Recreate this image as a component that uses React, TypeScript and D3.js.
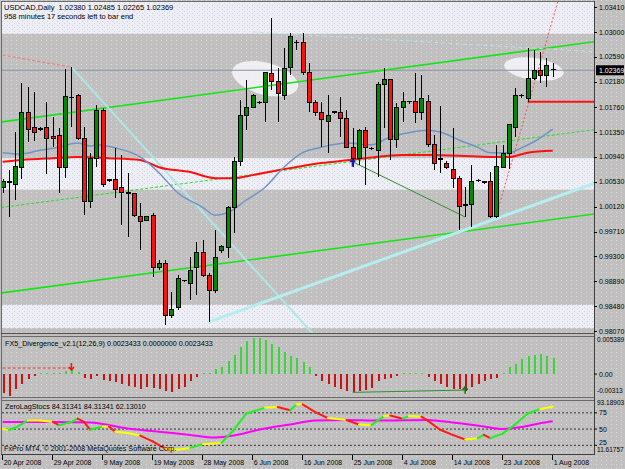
import React from 'react';
import * as d3 from 'd3';

// time axis labels, one every 8 bars
const dateLabels = ['20 Apr 2008', '29 Apr 2008', '9 May 2008', '19 May 2008', '28 May 2008', '6 Jun 2008',
  '16 Jun 2008', '25 Jun 2008', '4 Jul 2008', '14 Jul 2008', '23 Jul 2008', '1 Aug 2008'];

// USDCAD daily candles
const opens = [
  1.0044, 1.0053, 1.0049, 1.0077, 1.0167, 1.0142, 1.0140, 1.0142, 1.0127, 1.0129,
  1.0077, 1.0191, 1.0195, 1.0125, 1.0020, 1.0092, 1.0171, 1.0056, 1.0056, 1.0043,
  1.0036, 1.0033, 0.9995, 0.9990, 0.9998, 0.9912, 0.9919, 0.9832, 0.9845, 0.9889,
  0.9886, 0.9911, 0.9936, 0.9898, 0.9873, 0.9939, 0.9945, 1.0011, 1.0087, 1.0163,
  1.0176, 1.0183, 1.0183, 1.0231, 1.0219, 1.0196, 1.0241, 1.0282, 1.0282, 1.0234,
  1.0183, 1.0168, 1.0153, 1.0168, 1.0167, 1.0158, 1.0110, 1.0092, 1.0138, 1.0107,
  1.0104, 1.0214, 1.0221, 1.0122, 1.0176, 1.0185, 1.0185, 1.0167, 1.0186, 1.0114,
  1.0091, 1.0084, 1.0074, 1.0059, 1.0015, 1.0016, 1.0054, 1.0053, 1.0054, 0.9995,
  1.0077, 1.0099, 1.0143, 1.0195, 1.0191, 1.0224, 1.0236, 1.0229, 1.0238];
const highs = [
  1.0058, 1.0072, 1.0135, 1.0216, 1.0209, 1.0201, 1.0143, 1.0185, 1.0160, 1.0142,
  1.0239, 1.0242, 1.0198, 1.0143, 1.0101, 1.0180, 1.0175, 1.0058, 1.0109, 1.0097,
  1.0068, 1.0035, 1.0018, 0.9997, 1.0002, 0.9924, 0.9924, 0.9871, 0.9899, 0.9891,
  0.9929, 0.9954, 0.9957, 0.9903, 0.9973, 0.9949, 1.0013, 1.0094, 1.0188, 1.0221,
  1.0198, 1.0186, 1.0234, 1.0323, 1.0241, 1.0274, 1.0299, 1.0287, 1.0299, 1.0249,
  1.0188, 1.0185, 1.0196, 1.0170, 1.0193, 1.0171, 1.0142, 1.0140, 1.0143, 1.0110,
  1.0218, 1.0241, 1.0223, 1.0183, 1.0201, 1.0187, 1.0233, 1.0229, 1.0196, 1.0130,
  1.0178, 1.0087, 1.0142, 1.0063, 1.0044, 1.0081, 1.0058, 1.0055, 1.0069, 1.0114,
  1.0114, 1.0148, 1.0208, 1.0197, 1.0274, 1.0271, 1.0267, 1.0257, 1.02485];
const lows = [
  1.0035, 0.9995, 1.0023, 1.0058, 1.0119, 1.0120, 1.0136, 1.0066, 1.0110, 1.0035,
  1.0059, 1.0143, 1.0122, 0.9998, 1.0010, 1.0077, 1.0044, 1.0053, 1.0026, 0.9982,
  0.9962, 0.9995, 0.9940, 0.9988, 0.9896, 0.9907, 0.9817, 0.9828, 0.9841, 0.9887,
  0.9858, 0.9866, 0.9896, 0.9822, 0.9870, 0.9936, 0.9927, 0.9969, 1.0079, 1.0138,
  1.0175, 1.0181, 1.0152, 1.0204, 1.0152, 1.0188, 1.0229, 1.0270, 1.0229, 1.0168,
  1.0162, 1.0110, 1.0101, 1.0165, 1.0127, 1.0109, 1.0077, 1.0081, 1.0048, 1.0105,
  1.0061, 1.0142, 1.0089, 1.0109, 1.0152, 1.0182, 1.0150, 1.0155, 1.0110, 1.0072,
  1.0068, 1.0074, 1.0043, 0.9973, 0.9995, 0.9978, 1.0052, 1.0050, 0.9993, 0.9993,
  1.0076, 1.0074, 1.0127, 1.0191, 1.0185, 1.0221, 1.0216, 1.0209, 1.02265];
const closes = [
  1.0053, 1.0052, 1.0079, 1.0167, 1.0140, 1.0135, 1.0139, 1.0124, 1.0124, 1.0077,
  1.0193, 1.0192, 1.0124, 1.0020, 1.0092, 1.0171, 1.0048, 1.0055, 1.0041, 1.0036,
  1.0033, 0.9997, 0.9988, 0.9995, 0.9912, 0.9919, 0.9833, 0.9843, 0.9894, 0.9890,
  0.9907, 0.9937, 0.9899, 0.9873, 0.9929, 0.9947, 1.0011, 1.0087, 1.0162, 1.0176,
  1.0195, 1.0184, 1.0233, 1.0219, 1.0198, 1.0239, 1.0292, 1.0283, 1.0234, 1.0183,
  1.0167, 1.0155, 1.0162, 1.0167, 1.0158, 1.0110, 1.0092, 1.0138, 1.0109, 1.0108,
  1.0214, 1.0221, 1.0122, 1.0176, 1.0185, 1.0184, 1.0167, 1.0190, 1.0114, 1.0084,
  1.0090, 1.0077, 1.0059, 1.0013, 1.0014, 1.0054, 1.0055, 1.0052, 0.9995, 1.0079,
  1.0099, 1.0147, 1.0195, 1.0194, 1.0224, 1.0236, 1.0229, 1.0244, 1.02369];

const lastPrice = 1.02369;
const priceTicks = [1.0341, 1.03, 1.0259, 1.0218, 1.0176, 1.0135, 1.0094, 1.0053, 1.0012, 0.9971, 0.993, 0.9889, 0.9848, 0.9807];

// moving averages, read at some bars
const blueMaIdx = [0, 3, 6, 9, 12, 14, 15, 18, 22, 25, 28, 32, 34, 36, 39, 42, 45, 48, 51, 55, 59, 62, 65, 68, 70, 73, 76, 78, 81, 83, 85, 88];
const blueMa = [1.0101, 1.0099, 1.0105, 1.0110, 1.0117, 1.0112, 1.0114, 1.0109, 1.0094, 1.0068, 1.0035, 1.0011, 0.9998, 1.0002, 1.0023, 1.0044,
  1.0077, 1.0101, 1.0110, 1.0117, 1.0114, 1.0127, 1.0134, 1.0138, 1.0135, 1.0122, 1.0110, 1.0101, 1.0101, 1.0109, 1.0119, 1.0140];
const redMaIdx = [0, 3, 8, 12, 17, 22, 25, 30, 34, 37, 40, 44, 48, 51, 53, 58, 64, 68, 73, 78, 81, 84, 88];
const redMa = [1.0086, 1.0089, 1.0092, 1.0094, 1.0092, 1.0089, 1.0077, 1.0069, 1.0059, 1.0059, 1.0064, 1.0072, 1.0079, 1.0084, 1.0086,
  1.0092, 1.0097, 1.0097, 1.0096, 1.0094, 1.0094, 1.0101, 1.0104];

// shaded price zones [top, bottom]
const zoneTops = [1.0360, 1.0092, 0.9850];
const zoneBottoms = [1.0297, 1.0040, 0.9812];

// FX5_Divergence histogram, in units of 0.0001
const divHist = [
  -29, -32.5, -22.5, -15, -7.5, -2.5, 1, 1, 1, 1.5, 5, 6, 3.5,
  -6, -7.5, -2.5, -8.5, -11, -12.5, -15, -17.5, -19, -22.5, -20, -21, -22.5, -26, -27.5, -22.5, -19, -10, -4, 1, 1,
  7.5, 10, 19, 29, 40, 49, 54, 54, 51, 45, 40, 32.5, 27.5, 24, 17.5, 10,
  -3.5, -10, -15, -20, -22.5, -26, -27.5, -26, -24, -21, -11, -7.5, -6, -2.5, 1, 1, 1, 1, -5, -10,
  -15, -19, -22.5, -22.5, -25, -20, -15, -10, -7.5, -6, 1, 10, 15, 22.5, 27.5, 29, 30, 27.5, 24];

// ZeroLagStocs
const stochIdx = [0, 1, 2, 4, 6, 8, 9, 11, 12, 13, 14, 16, 17, 18, 20, 22, 24, 26, 28, 30, 32, 33, 35, 37, 39, 42, 44, 46, 47, 48,
  50, 52, 55, 57, 59, 61, 62, 64, 65, 67, 68, 70, 72, 74, 76, 77, 78, 80, 82, 84, 86, 88];
const stochMain = [50, 48.6, 52, 63, 63, 61, 56, 61, 66, 61, 49, 54, 54, 46, 44, 40, 31, 20, 18, 21, 27, 27, 29, 49, 74, 83, 84, 79, 88, 88,
  76, 67, 64, 57, 56, 70, 71, 66, 70, 69, 63, 49, 41, 34, 36, 41, 36, 43, 57, 74, 81, 84.31];
const sigIdx = [0, 8, 14, 20, 25, 30, 34, 37, 41, 46, 50, 55, 60, 68, 72, 77, 80, 83, 86, 88];
const stochSignal = [61, 61, 60, 51, 46, 41, 37, 40, 49, 57, 63, 64, 63, 64, 60, 54, 50, 53, 59, 62.13];
const stochLevels = [75, 50, 25];

type Pt = [number, number];
const font = 'Liberation Sans, Arial, sans-serif';

export default function App() {
  const n = closes.length;
  const x = d3.scaleLinear().domain([0, n - 1]).range([2.67, 552.67]);
  const y = d3.scaleLinear().domain([0.9807, 1.03]).range([331, 32]);
  const yDiv = d3.scaleLinear().domain([-0.00313, 0.005389]).range([395, 338]);
  const ySto = d3.scaleLinear().domain([11.61757, 93.18903]).range([454, 401]);
  const R = 594;

  // trend objects drawn on the price chart (bar index, price)
  const ray = (a: Pt, b: Pt, i0: number, i1: number) => {
    const k = (b[1] - a[1]) / (b[0] - a[0]);
    return { x1: x(i0), y1: y(a[1] + k * (i0 - a[0])), x2: x(i1), y2: y(a[1] + k * (i1 - a[0])) };
  };
  const objects = [
    { ...ray([0, 1.0152], [94, 1.0283], -1, 96), stroke: '#14e614', w: 1.6, dash: '' },
    { ...ray([0, 0.9870], [94, 0.9999], -1, 96), stroke: '#14e614', w: 1.6, dash: '' },
    { ...ray([0, 1.0011], [94, 1.0138], -1, 96), stroke: '#22e022', w: 1, dash: '3,2' },
    { ...ray([11, 1.0242], [48, 0.9821], 11, 60), stroke: '#aee6e6', w: 2, dash: '' },
    { ...ray([33, 0.9822], [94, 1.0048], 33, 96), stroke: '#b4eeee', w: 3, dash: '' },
    { ...ray([40, 1.0300], [94, 1.0268], 40, 96), stroke: '#b8e4e4', w: 1, dash: '4,3' },
    { ...ray([0, 1.0262], [11, 1.0242], 0, 11), stroke: '#ff7070', w: 1, dash: '3,2' },
    { ...ray([79, 0.9998], [87, 1.0285], 79, 96), stroke: '#ff5050', w: 1, dash: '2,2' },
    { ...ray([84, 1.0185], [94, 1.0185], 84, 96), stroke: '#ff1010', w: 2, dash: '' },
    { ...ray([56, 1.0086], [74, 0.9995], 56, 74), stroke: '#2f8f2f', w: 1, dash: '' },
  ];
  const ellipses = [
    { c: [42, 1.0223] as Pt, rx: 34, ry: 16, rot: 15 },
    { c: [85, 1.0239] as Pt, rx: 30, ry: 11, rot: 8 },
  ];

  const maLine = d3.line<number>().curve(d3.curveMonotoneX);
  const bluePath = maLine(blueMaIdx.map((i, k) => [x(i), y(blueMa[k])]) as any);
  const redPath = maLine(redMaIdx.map((i, k) => [x(i), y(redMa[k])]) as any);
  const sigPath = d3.line().curve(d3.curveMonotoneX)(sigIdx.map((i, k) => [x(i), ySto(stochSignal[k])]) as any);

  const stochSegs = stochIdx.slice(1).map((i, k) => {
    const i0 = stochIdx[k];
    const slope = (stochMain[k + 1] - stochMain[k]) / (i - i0);
    const color = slope > 2 ? '#22ee22' : slope < -2 ? '#ff1a1a' : '#ffff00';
    return { x1: x(i0), y1: ySto(stochMain[k]), x2: x(i), y2: ySto(stochMain[k + 1]), color };
  });

  const zeroY = yDiv(0);

  return (
    <svg width={625} height={469} style={{ position: 'absolute', left: 0, top: 0 }} fontFamily={font}>
      <defs>
        <pattern id="speck" width="5" height="4" patternUnits="userSpaceOnUse">
          <rect width="5" height="4" fill="#c0c0c0" />
          <rect x="1" y="0" width="1" height="1" fill="#dcdcdc" />
          <rect x="3" y="2" width="1" height="1" fill="#cfb8b8" />
        </pattern>
        <pattern id="speckW" width="5" height="4" patternUnits="userSpaceOnUse">
          <rect width="5" height="4" fill="#eeeef6" />
          <rect x="2" y="1" width="1" height="1" fill="#cfcfd8" />
          <rect x="4" y="3" width="1" height="1" fill="#d8d0d8" />
        </pattern>
        <clipPath id="mainClip"><rect x={2} y={2} width={R - 2} height={331} /></clipPath>
        <clipPath id="stoClip"><rect x={2} y={401} width={R - 2} height={53} /></clipPath>
      </defs>

      <rect width={625} height={469} fill="url(#speck)" />

      {/* price panel */}
      <g clipPath="url(#mainClip)">
        {zoneTops.map((t, k) => (
          <rect key={k} x={2} width={R - 2} y={y(t)} height={y(zoneBottoms[k]) - y(t)} fill="url(#speckW)" />
        ))}
        {ellipses.map((e, k) => (
          <ellipse key={k} cx={x(e.c[0])} cy={y(e.c[1])} rx={e.rx} ry={e.ry} fill="#f6f6fc" opacity={0.85}
            transform={`rotate(${e.rot} ${x(e.c[0])} ${y(e.c[1])})`} />
        ))}
        <line x1={2} x2={R} y1={y(lastPrice)} y2={y(lastPrice)} stroke="#8c95a8" strokeWidth={1} />
        {objects.map((o, k) => (
          <line key={k} x1={o.x1} y1={o.y1} x2={o.x2} y2={o.y2} stroke={o.stroke} strokeWidth={o.w}
            strokeDasharray={o.dash || undefined} />
        ))}
        <path d={redPath || ''} fill="none" stroke="#ff1010" strokeWidth={2} />
        <path d={bluePath || ''} fill="none" stroke="#6f93c6" strokeWidth={1.5} />
        <g shapeRendering="crispEdges">
          {closes.map((c, i) => {
            const o = opens[i];
            const cx = Math.round(x(i)) + 0.5;
            const top = y(Math.max(o, c));
            const bot = y(Math.min(o, c));
            const doji = bot - top < 1.5;
            return (
              <g key={i}>
                <line x1={cx} x2={cx} y1={y(highs[i])} y2={y(lows[i])} stroke="#000" strokeWidth={1} />
                {doji ? (
                  <line x1={cx - 2.5} x2={cx + 2.5} y1={top} y2={top} stroke="#000" strokeWidth={1.5} />
                ) : (
                  <rect x={cx - 2} y={top} width={4} height={bot - top} fill={c >= o ? '#008a00' : '#ff1010'}
                    stroke="#000" strokeWidth={1} />
                )}
              </g>
            );
          })}
        </g>
        <path d={`M${x(56)},${y(1.0086) - 3}v8M${x(56) - 2.5},${y(1.0086) - 0.5}h5`} stroke="#1a1ab8" strokeWidth={2} />
      </g>

      <text x={4} y={10} fontSize={7.5} style={{ whiteSpace: 'pre' }}>USDCAD,Daily  1.02380 1.02485 1.02265 1.02369</text>
      <text x={4} y={19} fontSize={7.5}>958 minutes 17 seconds left to bar end</text>

      {/* divergence panel */}
      <g shapeRendering="crispEdges">
        {divHist.map((v, i) => {
          const val = v * 0.0001;
          const yy = yDiv(val);
          return (
            <rect key={i} x={Math.round(x(i)) - 0.5} width={2} y={Math.min(yy, zeroY)}
              height={Math.max(1, Math.abs(yy - zeroY))} fill={v > 0 ? '#3ad63a' : '#d01010'} />
          );
        })}
      </g>
      <line x1={x(0)} x2={x(11)} y1={yDiv(0.0009)} y2={yDiv(0.0009)} stroke="#ff3030" strokeDasharray="3,2" />
      <path d={`M${x(11)},${yDiv(0.0009) - 5}v6M${x(11) - 2.5},${yDiv(0.0009) - 1}l2.5,3l2.5,-3`} stroke="#ff1010" strokeWidth={1.5} fill="none" />
      <line x1={x(56)} x2={x(74)} y1={yDiv(-0.00274)} y2={yDiv(-0.00239)} stroke="#2f8f2f" strokeWidth={1} />
      <path d={`M${x(74)},${yDiv(-0.0019)}v7M${x(74) - 2.5},${yDiv(-0.0019) + 3}l2.5,-3l2.5,3`} stroke="#0a7a0a" strokeWidth={1.5} fill="none" />
      <text x={5} y={346} fontSize={7.2}>FX5_Divergence_v2.1(12,26,9) 0.0023433 0.0000000 0.0023433</text>

      {/* stochastic panel */}
      {stochLevels.map(l => (
        <line key={l} x1={2} x2={R} y1={ySto(l)} y2={ySto(l)} stroke="#303030" strokeDasharray="2,2" />
      ))}
      <g clipPath="url(#stoClip)">
        <path d={sigPath || ''} fill="none" stroke="#ff00ff" strokeWidth={2} />
        {stochSegs.map((s, k) => (
          <line key={k} x1={s.x1} y1={s.y1} x2={s.x2} y2={s.y2} stroke={s.color} strokeWidth={2} strokeLinecap="round" />
        ))}
      </g>
      <text x={5} y={409} fontSize={7.2}>ZeroLagStocs 84.31341 84.31341 62.13010</text>
      <text x={4} y={451} fontSize={7.2}>FxPro MT4, © 2001-2008 MetaQuotes Software Corp.</text>

      {/* frames */}
      <g fill="none" stroke="#6a6a6a" shapeRendering="crispEdges">
        <line x1={1.5} x2={1.5} y1={1} y2={455} />
        <line x1={1} x2={R} y1={1.5} y2={1.5} />
        <line x1={1} x2={R} y1={333.5} y2={333.5} stroke="#505050" />
        <line x1={1} x2={R} y1={336.5} y2={336.5} />
        <line x1={1} x2={R} y1={397.5} y2={397.5} />
        <line x1={1} x2={R} y1={400.5} y2={400.5} />
        <line x1={1} x2={R} y1={454.5} y2={454.5} stroke="#404040" />
        <line x1={R + 0.5} x2={R + 0.5} y1={1} y2={455} stroke="#404040" />
      </g>

      {/* price axis */}
      {priceTicks.map(p => (
        <g key={p}>
          <line x1={R} x2={R + 3} y1={Math.round(y(p)) + 0.5} y2={Math.round(y(p)) + 0.5} stroke="#000" />
          <text x={599} y={y(p) + 2.5} fontSize={7}>{p.toFixed(5)}</text>
        </g>
      ))}
      <rect x={596} y={y(lastPrice) - 5} width={28} height={10} fill="#000" />
      <text x={599} y={y(lastPrice) + 2.5} fontSize={7} fill="#fff">{lastPrice.toFixed(5)}</text>

      <text x={597} y={342} fontSize={6.5}>0.005389</text>
      <text x={599} y={zeroY + 2.5} fontSize={7}>0.00</text>
      <text x={597} y={393} fontSize={6.5}>-0.00313</text>
      <line x1={R} x2={R + 3} y1={zeroY} y2={zeroY} stroke="#000" />

      <text x={597} y={405} fontSize={6.5}>93.18903</text>
      {stochLevels.map(l => (
        <g key={l}>
          <line x1={R} x2={R + 3} y1={ySto(l)} y2={ySto(l)} stroke="#000" />
          <text x={599} y={ySto(l) + (l === 25 ? 0 : 2.5)} fontSize={7}>{l}</text>
        </g>
      ))}
      <text x={597} y={452} fontSize={6.5}>11.61757</text>

      {/* time axis */}
      {dateLabels.map((d, k) => (
        <g key={d}>
          <line x1={Math.round(x(k * 8)) - 0.5} x2={Math.round(x(k * 8)) - 0.5} y1={455} y2={460} stroke="#000" />
          <text x={x(k * 8) + 1} y={465} fontSize={7}>{d}</text>
        </g>
      ))}
    </svg>
  );
}
